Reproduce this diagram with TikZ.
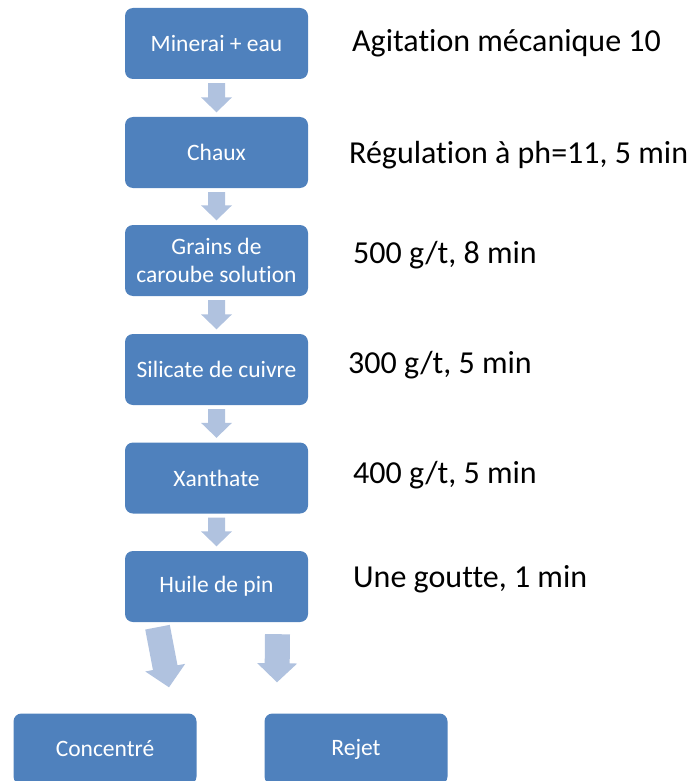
\documentclass[tikz,border=0pt]{standalone}
\usepackage{fontspec}
\setmainfont{Carlito}[Ligatures={NoCommon}]
\usetikzlibrary{calc}
\definecolor{boxblue}{HTML}{4F81BD}
\definecolor{arrowblue}{HTML}{B0C2DF}
\newcommand{\blockarrow}[5]{% start, end, shaft half width, head half width, head length
  \fill[arrowblue] let \p1=(#1), \p2=(#2), \n1={atan2(\y2-\y1,\x2-\x1)}, \n2={veclen(\x2-\x1,\y2-\y1)} in
    [shift={(\p1)}, rotate=\n1]
    (0,-#3) -- (\n2-#5,-#3) -- (\n2-#5,-#4) -- (\n2,0) -- (\n2-#5,#4) -- (\n2-#5,#3) -- (0,#3) -- cycle;}
\begin{document}
\begin{tikzpicture}[x=1pt,y=-1pt,
  stepbox/.style={fill=boxblue, rounded corners=8pt, minimum width=183pt, minimum height=71pt,
    inner sep=0pt, text=white, align=center, font=\fontsize{23.5}{27.5}\selectfont},
  note/.style={anchor=base west, inner sep=0pt, font=\fontsize{32}{37}\selectfont}]
\useasboundingbox (0,0) rectangle (690,781);
\clip (0,0) rectangle (690,781);
\node[stepbox] (b1) at (216.5,43.5) {Minerai + eau};
\node[stepbox] (b2) at (216.5,152.5) {Chaux};
\node[stepbox] (b3) at (216.5,260.5) {Grains de\\caroube solution};
\node[stepbox] (b4) at (216.5,369.5) {Silicate de cuivre};
\node[stepbox] (b5) at (216.5,478) {Xanthate};
\node[stepbox] (b6) at (216.5,586.5) {Huile de pin};
\node[stepbox] (c1) at (105,749) {Concentré};
\node[stepbox] (c2) at (356,749) {Rejet};
\node[note] (n1) at (352,52) {Agitation mécanique 10};
\node[note] (n2) at (349,163) {Régulation à ph=11, 5 min};
\node[note] (n3) at (353,263) {500 g/t, 8 min};
\node[note] (n4) at (348,373) {300 g/t, 5 min};
\node[note] (n5) at (353,483) {400 g/t, 5 min};
\node[note] (n6) at (353,587) {Une goutte, 1 min};
\foreach \a/\b in {b1/b2,b2/b3,b3/b4,b4/b5,b5/b6}{
  \blockarrow{$(\a.south)+(0,4)$}{$(\b.north)+(0,-4.5)$}{8.5}{15.5}{15}
}
\coordinate (s1) at ($(b6.south)+(-59,5)$);
\coordinate (e1) at ($(c1.north)+(64,-26)$);
\coordinate (s2) at ($(b6.south)+(61,12)$);
\coordinate (e2) at ($(c2.north)+(-79,-31)$);
\blockarrow{s1}{e1}{12.5}{20.3}{20}
\blockarrow{s2}{e2}{12.5}{20}{19}
\end{tikzpicture}
\end{document}
